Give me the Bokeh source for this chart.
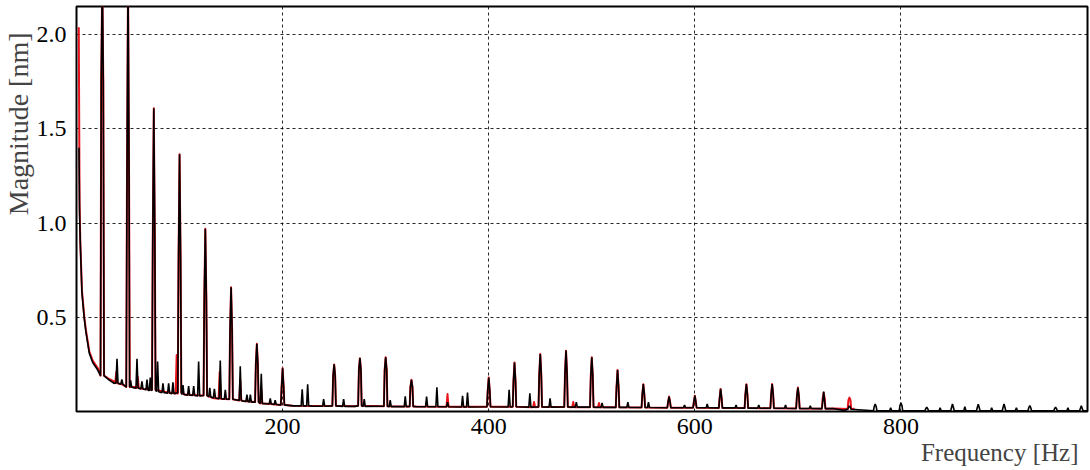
from bokeh.plotting import figure
from bokeh.models import Range1d, FixedTicker, Title
from bokeh.embed import file_html
from bokeh.resources import INLINE

# ---------------- data ----------------
# black trace: smooth floor (Hz, nm)
blk_base_f = [2.4, 3.0, 3.7, 5.3, 7.6, 9.2, 12.4, 15.7, 20.6, 26.7, 31, 36.4, 44, 50, 56, 65.5, 72,
              85, 92, 105, 112, 124, 132, 150, 162, 176, 186, 198, 210, 230, 250, 270, 300, 330,
              360, 400, 450, 500, 550, 600, 650, 700, 735, 745, 780, 800, 850, 900, 950, 981]
blk_base_v = [1.40, 1.05, 0.89, 0.63, 0.49, 0.42, 0.31, 0.26, 0.22, 0.18, 0.17, 0.15, 0.14, 0.13,
              0.125, 0.115, 0.11, 0.10, 0.095, 0.085, 0.085, 0.08, 0.07, 0.06, 0.055, 0.045, 0.04,
              0.035, 0.03, 0.028, 0.027, 0.027, 0.026, 0.025, 0.024, 0.024, 0.023, 0.022, 0.021,
              0.02, 0.019, 0.017, 0.015, 0.006, 0.004, 0.004, 0.004, 0.004, 0.004, 0.004]

# red trace floor
red_base_f = [2.2, 3.0, 3.7, 5.3, 7.6, 9.2, 12.4, 15.7, 20.6, 26.7, 31, 36.4, 44, 50, 56, 65.5, 72,
              85, 92, 105, 112, 124, 132, 150, 162, 176, 186, 198, 210, 230, 250, 270, 300, 330,
              360, 400, 450, 500, 550, 600, 650, 700, 735, 755]
red_base_v = [2.04, 1.10, 0.90, 0.64, 0.50, 0.43, 0.32, 0.27, 0.23, 0.19, 0.175, 0.16, 0.145, 0.135,
              0.13, 0.12, 0.115, 0.105, 0.10, 0.09, 0.088, 0.082, 0.072, 0.062, 0.056, 0.046, 0.041,
              0.036, 0.031, 0.029, 0.028, 0.028, 0.027, 0.026, 0.025, 0.025, 0.024, 0.023, 0.022,
              0.021, 0.02, 0.018, 0.016, 0.014]

# harmonic peaks shared by both traces: frequency, top, shoulder, foot
harm_f = [25, 50, 75, 100, 125, 150, 175, 200, 250, 275, 300, 325, 400, 425, 450, 475, 500,
          525, 550, 575, 600, 625, 650, 675, 700]
harm_top = [2.30, 2.30, 1.61, 1.365, 0.97, 0.66, 0.36, 0.23, 0.25, 0.283, 0.288, 0.168, 0.18,
            0.26, 0.305, 0.323, 0.288, 0.22, 0.145, 0.079, 0.084, 0.12, 0.145, 0.146, 0.127]
harm_sh = [1.75, 1.25, 0.92, 0.81, 0.60, 0.43, 0.25, 0.13, 0.19, 0.22, 0.22, 0.13, 0.11,
           0.16, 0.195, 0.20, 0.185, 0.13, 0.09, 0.05, 0.05, 0.07, 0.09, 0.09, 0.08]
harm_foot = [0.19, 0.13, 0.115, 0.10, 0.085, 0.065, 0.05, 0.035, 0.03, 0.03, 0.028, 0.027, 0.025,
             0.025, 0.024, 0.024, 0.023, 0.022, 0.021, 0.02, 0.02, 0.019, 0.018, 0.017, 0.016]

# harmonics only in the black trace beyond 700 Hz
blk_hi_f = [725, 750, 775, 800, 825, 850, 875, 900, 925, 950, 975]
blk_hi_top = [0.106, 0.03, 0.04, 0.047, 0.023, 0.04, 0.039, 0.04, 0.031, 0.023, 0.03]
blk_hi_sh = [0.05, 0.02, 0.025, 0.03, 0.015, 0.02, 0.02, 0.02, 0.02, 0.015, 0.015]
blk_hi_foot = [0.015, 0.012, 0.004, 0.004, 0.004, 0.004, 0.004, 0.004, 0.004, 0.004, 0.004]

# harmonics only in the red trace beyond 700 Hz
red_hi_f = [725, 750]
red_hi_top = [0.10, 0.074]
red_hi_sh = [0.07, 0.06]
red_hi_foot = [0.015, 0.013]

# small side spikes of the black trace: frequency, top, foot
blk_sp_f = [39.3, 44, 52.5, 58.7, 63.5, 68.4, 71.6, 78.7, 83.9, 89.4, 93.6, 103.3, 108.8, 113.7,
            118.5, 129.3, 133.8, 139.5, 144.4, 158.9, 165.4, 168.7, 179.3, 188, 192.8, 219, 224.3,
            239.8, 259.2, 279.2, 304.4, 319, 339.7, 349.7, 360, 374.6, 379.4, 419.8, 439.9, 459.5,
            485, 510, 535, 555, 590, 612, 640, 662, 688, 712, 790, 838, 862, 888, 912, 962]
blk_sp_top = [0.28, 0.17, 0.165, 0.28, 0.16, 0.17, 0.18, 0.265, 0.15, 0.15, 0.155, 0.14, 0.135,
              0.135, 0.265, 0.125, 0.12, 0.27, 0.115, 0.24, 0.09, 0.09, 0.20, 0.07, 0.06, 0.118,
              0.145, 0.066, 0.066, 0.066, 0.06, 0.08, 0.079, 0.128, 0.05, 0.083, 0.10, 0.115,
              0.097, 0.07, 0.05, 0.045, 0.05, 0.05, 0.035, 0.04, 0.035, 0.035, 0.035, 0.03, 0.02,
              0.02, 0.025, 0.02, 0.02, 0.02]
blk_sp_foot = [0.15, 0.145, 0.13, 0.125, 0.12, 0.115, 0.11, 0.105, 0.10, 0.097, 0.095, 0.09,
               0.087, 0.085, 0.083, 0.077, 0.072, 0.068, 0.065, 0.058, 0.053, 0.05, 0.043, 0.04,
               0.037, 0.03, 0.03, 0.028, 0.027, 0.027, 0.026, 0.026, 0.025, 0.025, 0.025, 0.024,
               0.024, 0.024, 0.023, 0.023, 0.023, 0.022, 0.022, 0.021, 0.02, 0.02, 0.019, 0.018,
               0.017, 0.016, 0.004, 0.004, 0.004, 0.004, 0.004, 0.004]

# small side spikes of the red trace
red_sp_f = [38.6, 59.4, 97.2, 138.9, 158.9, 179.3, 360, 444, 482, 507]
red_sp_top = [0.21, 0.185, 0.30, 0.21, 0.17, 0.12, 0.093, 0.05, 0.05, 0.045]
red_sp_foot = [0.15, 0.125, 0.095, 0.068, 0.058, 0.043, 0.025, 0.023, 0.023, 0.022]


def build(base_f, base_v, pk_f, pk_top, pk_sh, pk_foot, sp_f, sp_top, sp_foot):
    marks = list(pk_f) + list(sp_f)
    pts = [(f, v) for f, v in zip(base_f, base_v)
           if all(abs(f - m) > 2.0 for m in marks) or f < 3.5]
    for f, t, s, ft in zip(pk_f, pk_top, pk_sh, pk_foot):
        pts += [(f - 1.7, ft), (f - 1.0, s), (f, t), (f + 1.0, s), (f + 1.7, ft)]
    for f, t, ft in zip(sp_f, sp_top, sp_foot):
        pts += [(f - 1.0, ft), (f, t), (f + 1.0, ft)]
    pts.sort()
    return [a for a, _ in pts], [b for _, b in pts]


red_x, red_y = build(red_base_f, red_base_v,
                     harm_f + red_hi_f, harm_top + red_hi_top, harm_sh + red_hi_sh,
                     harm_foot + red_hi_foot, red_sp_f, red_sp_top, red_sp_foot)
blk_x, blk_y = build(blk_base_f, blk_base_v,
                     harm_f + blk_hi_f, harm_top + blk_hi_top, harm_sh + blk_hi_sh,
                     harm_foot + blk_hi_foot, blk_sp_f, blk_sp_top, blk_sp_foot)

x_ticks = [200, 400, 600, 800]
y_ticks = [0.5, 1.0, 1.5, 2.0]
y_tick_labels = {0.5: "0.5", 1.0: "1.0", 1.5: "1.5", 2.0: "2.0"}
X_MAX, Y_MAX = 981, 2.15

# ---------------- figure ----------------
FONT = "Liberation Serif"
p = figure(width=1090, height=470, x_range=Range1d(0, X_MAX), y_range=Range1d(0, Y_MAX),
           output_backend="svg", toolbar_location=None,
           min_border_left=76, min_border_right=3, min_border_top=6, min_border_bottom=59)
p.background_fill_color = "white"
p.border_fill_color = "white"
p.outline_line_color = "black"
p.outline_line_width = 2

p.line(red_x, red_y, line_color="#e8141c", line_width=2.0, line_join="round")
p.line(blk_x, blk_y, line_color="#000000", line_width=1.6)

p.xaxis.ticker = FixedTicker(ticks=x_ticks)
p.yaxis.ticker = FixedTicker(ticks=y_ticks)
p.yaxis.major_label_overrides = y_tick_labels
for ax in (p.xaxis[0], p.yaxis[0]):
    ax.axis_line_color = None
    ax.major_tick_line_color = None
    ax.minor_tick_line_color = None
    ax.major_label_text_font = FONT
    ax.major_label_text_font_size = "24px"
    ax.major_label_text_color = "black"
p.xaxis.major_label_standoff = 1
p.yaxis.major_label_standoff = 4

for g in (p.xgrid[0], p.ygrid[0]):
    g.grid_line_color = "black"
    g.grid_line_dash = "3 3"
    g.grid_line_width = 1
    g.grid_line_alpha = 0.85

p.add_layout(Title(text="Frequency [Hz]", align="right", text_font=FONT,
                   text_font_size="25px", text_font_style="normal", offset=9,
                   standoff=0), "below")
p.add_layout(Title(text="Magnitude [nm]", align="right", text_font=FONT,
                   text_font_size="28px", text_font_style="normal", offset=26,
                   standoff=0), "left")

open("out.html", "w").write(file_html(p, INLINE))
